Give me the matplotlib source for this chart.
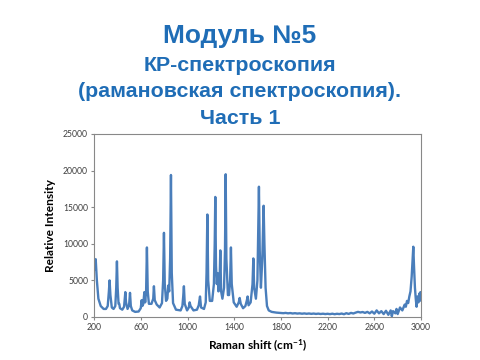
import matplotlib
matplotlib.use("Agg")
import matplotlib.pyplot as plt

title_lines = ["Модуль №5", "КР-спектроскопия", "(рамановская спектроскопия).", "Часть 1"]
x_label = "Raman shift (cm$^{-1}$)"
y_label = "Relative Intensity"
x_ticks = [200, 600, 1000, 1400, 1800, 2200, 2600, 3000]
y_ticks = [0, 5000, 10000, 15000, 20000, 25000]

# spectrum points (wavenumber, intensity)
shift = [200, 212, 222, 235, 255, 280, 300, 315, 325, 331, 338, 350, 365, 380, 388, 394, 400, 408, 414, 420,
         440, 455, 461, 466, 472, 485, 498, 506, 513, 525, 550, 580, 598, 606, 612, 620, 629, 636, 644, 651,
         658, 668, 690, 705, 711, 718, 735, 760, 780, 790, 797, 804, 815, 826, 834, 842, 850, 857, 864, 875,
         900, 940, 955, 962, 968, 975, 995, 1010, 1017, 1025, 1050, 1080, 1095, 1106, 1115, 1140, 1155, 1162,
         1169, 1176, 1190, 1210, 1225, 1232, 1237, 1243, 1250, 1257, 1264, 1274, 1280, 1287, 1298, 1312, 1320,
         1326, 1332, 1345, 1355, 1364, 1371, 1378, 1395, 1420, 1438, 1446, 1455, 1475, 1495, 1508, 1514, 1522,
         1540, 1556, 1563, 1570, 1585, 1598, 1605, 1611, 1618, 1628, 1640, 1651, 1658, 1668, 1680, 1695, 1720,
         1760, 1800, 1820, 1840, 1860, 1880, 1900, 1920, 1940, 1960, 1980, 2000, 2020, 2040, 2060, 2080, 2100,
         2120, 2140, 2160, 2180, 2200, 2220, 2240, 2260, 2280, 2300, 2320, 2340, 2360, 2380, 2400, 2420, 2440,
         2460, 2480, 2500, 2520, 2540, 2560, 2580, 2600, 2620, 2640, 2660, 2680, 2700, 2720, 2740, 2750, 2760,
         2780, 2790, 2800, 2820, 2840, 2860, 2870, 2880, 2890, 2900, 2910, 2920, 2928, 2934, 2940, 2948, 2955,
         2962, 2970, 2978, 2985, 2990, 2995, 3000]
intensity = [6500, 7900, 5000, 2500, 1500, 1100, 1100, 1500, 3500, 5000, 3000, 1300, 1100, 1500, 4000, 7600, 4000, 1800, 1800, 1200,
             1000, 1400, 2500, 3400, 2000, 1100, 1600, 3300, 1500, 900, 700, 750, 1200, 2300, 1500, 1800, 3400, 2000, 3500, 9500,
             3500, 1800, 1800, 2500, 4200, 2300, 1700, 1300, 1900, 5000, 11500, 4500, 2200, 2500, 4300, 3500, 8000, 19400, 6000, 1900,
             1000, 900, 1500, 2800, 4200, 1800, 900, 1300, 2000, 1500, 900, 1000, 1600, 2800, 1300, 1100, 2000, 6000,
             14000, 5000, 2200, 2200, 4500, 10000, 16400, 7000, 4500, 6000, 3500, 5000, 9100, 3500, 2500, 4000, 9000,
             19500, 8000, 3000, 3000, 5000, 9500, 4500, 2000, 1400, 2000, 2600, 1800, 1200, 1500, 2300, 2800, 1600,
             2000, 4500, 8000, 4000, 2500, 5000, 12000, 17800, 9000, 4000, 8000, 15200, 10000, 4000, 1500, 900, 700,
             600, 550, 520, 560, 500, 540, 480, 520, 470, 500, 450, 490, 440, 480, 430, 470, 420,
             460, 410, 450, 400, 440, 390, 450, 380, 440, 400, 470, 380, 520, 420, 560, 480, 600,
             700, 620, 680, 560, 700, 500, 750, 450, 900, 500, 800, 400, 850, 300, 900, 100, 800,
             500, 1100, 400, 1300, 900, 1700, 1400, 2200, 1900, 2800, 3500, 5500, 8000, 9600, 7000, 4000, 2500,
             1400, 2800, 2000, 3200, 2200, 3400, 2500]

plt.rcParams['font.family'] = ['Liberation Sans', 'DejaVu Sans']
plt.rcParams['mathtext.default'] = 'regular'

fig = plt.figure(figsize=(4.8, 3.6), dpi=100)
fig.patch.set_facecolor('white')

title_color = '#1f6db6'
fig.text(0.5, 1 - 43.3 / 360, title_lines[0], ha='center', va='baseline', fontsize=19,
         fontweight='bold', color=title_color)
for txt, yb in zip(title_lines[1:], [70.7, 97.0, 124.5]):
    fig.text(0.5, 1 - yb / 360, txt, ha='center', va='baseline', fontsize=15.4,
             fontweight='bold', color=title_color)

ax = fig.add_axes([94.3 / 480, 1 - 317 / 360, (421 - 94.3) / 480, (317 - 134) / 360])
ax.plot(shift, intensity, color='#4a7ebb', lw=1.7, solid_joinstyle='round')
ax.set_xlim(200, 3000)
ax.set_ylim(0, 25000)
ax.set_xticks(x_ticks)
ax.set_yticks(y_ticks)
ax.set_xticklabels([str(v) for v in x_ticks])
ax.set_yticklabels([str(v) for v in y_ticks])
for s in ax.spines.values():
    s.set_color('#888888')
    s.set_linewidth(0.8)
ax.tick_params(axis='both', labelsize=6.2, colors='#888888', labelcolor='#404040', length=2.5, width=0.8, pad=2)
for lab in ax.get_xticklabels() + ax.get_yticklabels():
    lab.set_family(['Lato', 'DejaVu Sans'])
ax.set_xlabel(x_label, fontsize=8.6, fontweight='bold', color='black', labelpad=4,
              family=['Lato', 'DejaVu Sans'])
ax.set_ylabel(y_label, fontsize=8.6, fontweight='bold', color='black', labelpad=5,
              family=['Lato', 'DejaVu Sans'])

fig.savefig('out.png', dpi=100, facecolor='white')
